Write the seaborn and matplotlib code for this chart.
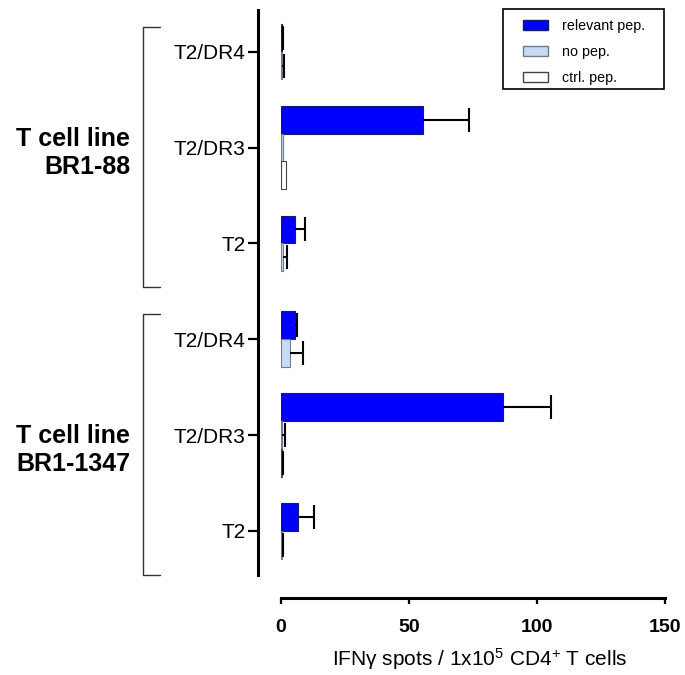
import matplotlib
matplotlib.use('Agg')
import matplotlib.pyplot as plt
import seaborn as sns
import pandas as pd
from matplotlib.lines import Line2D
from matplotlib.patches import Patch, Rectangle

# ---- data ----
groups = ['BR1-88', 'BR1-88', 'BR1-88', 'BR1-1347', 'BR1-1347', 'BR1-1347']
targets = ['T2/DR4', 'T2/DR3', 'T2', 'T2/DR4', 'T2/DR3', 'T2']
conditions = ['relevant pep.', 'no pep.', 'ctrl. pep.']
relevant = [0.3, 55.3, 5.6, 5.5, 86.8, 6.5]
relevant_err = [0.4, 18.0, 3.7, 0.9, 18.5, 6.4]
no_pep = [0.3, 0.8, 0.9, 3.5, 0.4, 0.3]
no_pep_err = [0.8, 0.0, 1.3, 5.0, 1.0, 0.3]
ctrl_pep = [None, 2.0, None, None, 0.3, None]   # None = not measured
ctrl_pep_err = [None, 0.0, None, None, 0.3, None]
x_ticks = [0, 50, 100, 150]

keys = [f'{g}|{t}' for g, t in zip(groups, targets)]
values = [relevant, no_pep, ctrl_pep]
errors = [relevant_err, no_pep_err, ctrl_pep_err]
rows = []
err_lookup = {}
for cond, vals, errs in zip(conditions, values, errors):
    for k, v, e in zip(keys, vals, errs):
        if v is None:
            continue
        rows.append({'key': k, 'cond': cond, 'value': v})
        err_lookup[(k, cond)] = e
df = pd.DataFrame(rows)
n_cond = df.groupby('key')['cond'].nunique()
full_keys = [k for k in keys if n_cond[k] == 3]
df3 = df[df['key'].isin(full_keys)]
df2 = df[~df['key'].isin(full_keys)]

sns.set_style('ticks')
plt.rcParams['font.family'] = ['Liberation Sans', 'DejaVu Sans']
plt.rcParams['mathtext.fontset'] = 'custom'
plt.rcParams['mathtext.rm'] = 'Liberation Sans'
plt.rcParams['mathtext.it'] = 'Liberation Sans:italic'
plt.rcParams['mathtext.bf'] = 'Liberation Sans:bold'
for k in ['text.color', 'axes.labelcolor', 'xtick.color', 'ytick.color',
          'axes.edgecolor']:
    plt.rcParams[k] = 'black'

W, H = 685, 675
fig = plt.figure(figsize=(W / 100, H / 100), dpi=100)
ax = fig.add_axes([281 / W, 100 / H, 384 / W, 565 / H])

face = ['#0000FF', '#C6DCF4', '#FFFFFF']
edges = ['#1A1A60', '#6E7C8C', '#444444']
bar_w = 0.87
calls = [(df3, conditions, bar_w), (df2, conditions[:2], bar_w * 2 / 3)]
drawn = []
for data, hues, w in calls:
    before = len(ax.containers)
    sns.barplot(data=data, y='key', x='value', hue='cond', order=keys,
                hue_order=hues, palette=face[:len(hues)], saturation=1,
                orient='h', width=w, edgecolor='#333333', linewidth=0.8,
                legend=False, ax=ax)
    for ci, cont in enumerate(ax.containers[before:]):
        drawn.append((hues[ci], cont))

for cond, cont in drawn:
    ci = conditions.index(cond)
    for bar in cont:
        bar.set_edgecolor(edges[ci])
        yc = bar.get_y() + bar.get_height() / 2
        key = keys[int(round(yc))]
        err = err_lookup.get((key, cond))
        if not err:
            continue
        xv = bar.get_width()
        _, caps, _ = ax.errorbar(xv, yc, xerr=[[0], [err]], fmt='none',
                                 ecolor='black', elinewidth=1.5,
                                 capsize=8.5, capthick=1.5, zorder=3)
        caps[0].set_visible(False)

for s in ['top', 'right']:
    ax.spines[s].set_visible(False)
for s in ['left', 'bottom']:
    ax.spines[s].set_linewidth(2.2)
    ax.spines[s].set_color('black')
    ax.spines[s].set_position(('outward', 16.5))

ax.set_xlim(0, 150)
ax.set_ylim(5.46, -0.435)
ax.set_xticks(x_ticks)
ax.set_xticklabels([str(t) for t in x_ticks], fontweight='bold', fontsize=14)
ax.set_yticks(range(len(targets)))
ax.set_yticklabels(targets, fontsize=15)
ax.set_ylabel('')
ax.set_xlabel(r'IFNγ spots / 1x10$^{5}$ CD4$^{+}$ T cells', fontsize=15)
ax.tick_params(axis='y', length=7, width=1.6, pad=2, colors='black')
ax.tick_params(axis='x', length=4, width=1.6, pad=11, colors='black')
ax.xaxis.set_label_coords(0.518, -0.125)

# legend
def fx(px):
    return px / W

def fy(py):
    return 1 - py / H

handles = [Patch(facecolor=f, edgecolor=e, linewidth=1.0) for f, e in zip(face, edges)]
leg = fig.legend(handles, conditions, loc='upper left',
                 bbox_to_anchor=(fx(523), fy(19)), fontsize=10.3,
                 frameon=False, handlelength=1.75, handleheight=0.7,
                 labelspacing=0.85, borderpad=0, handletextpad=1.0,
                 borderaxespad=0)
fig.add_artist(Rectangle((fx(503), fy(89)), fx(664) - fx(503), fy(9) - fy(89),
                         transform=fig.transFigure, facecolor='none',
                         edgecolor='black', linewidth=1.2))

# group brackets and labels
for top, bot in [(27, 287), (314, 575)]:
    xs = [fx(160), fx(143), fx(143), fx(160)]
    ys = [fy(top), fy(top), fy(bot), fy(bot)]
    fig.add_artist(Line2D(xs, ys, color='#333333', linewidth=1.0))

fig.text(fx(130), fy(153), 'T cell line\nBR1-88', ha='right', va='center',
         fontsize=18, fontweight='bold', multialignment='right')
fig.text(fx(130), fy(450), 'T cell line\nBR1-1347', ha='right', va='center',
         fontsize=18, fontweight='bold', multialignment='right')

fig.savefig('out.png', dpi=100)
